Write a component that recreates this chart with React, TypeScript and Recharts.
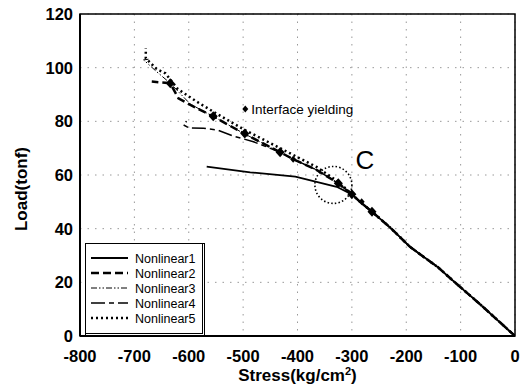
import {
  ComposedChart,
  Line,
  Scatter,
  XAxis,
  YAxis,
  CartesianGrid,
  ReferenceDot,
  ReferenceArea,
  Legend,
  Label,
} from "recharts";

// shared linear part, from origin up to the branch point near C
const baseStress = [0, -64, -119, -141, -193, -230, -263, -285, -300];
const baseLoad = [0, 11.8, 21.5, 25.5, 33.2, 40.5, 46.3, 50, 52.8];

const n1Stress = [-328, -404, -487, -567];
const n1Load = [55.6, 59.4, 61, 63.1];

const n2Stress = [-325, -365, -408, -432, -499, -554, -597, -619, -634, -668];
const n2Load = [56.9, 61.9, 65.9, 68.5, 75.5, 81.7, 86.1, 88.6, 94.2, 94.8];

const n3Stress = [-325, -365, -408, -432, -499, -554, -597, -634, -659, -683, -672];
const n3Load = [56.9, 61.9, 65.9, 68.5, 75.5, 81.7, 86.4, 94.2, 98.5, 102.9, 103.2];

const n4Stress = [-325, -365, -408, -432, -481, -518, -548, -573, -600, -610, -604];
const n4Load = [56.9, 61.9, 65.9, 68.5, 72.4, 74.5, 76.8, 77.4, 77.6, 78.7, 80];

const n5Stress = [-325, -365, -432, -499, -554, -585, -620, -643, -659, -679, -679];
const n5Load = [57.5, 63, 70, 77, 83.5, 87.3, 92, 97.9, 99.5, 103.5, 107.2];

const yieldStress = [-263, -300, -325, -432, -497, -555, -634];
const yieldLoad = [46.3, 52.8, 56.9, 68.5, 75.5, 81.9, 94.2];

const smallStress = [-282, -408];
const smallLoad = [50, 65.9];

const xTicks = [-800, -700, -600, -500, -400, -300, -200, -100, 0];
const yTicks = [0, 20, 40, 60, 80, 100, 120];

const seriesNames = ["Nonlinear1", "Nonlinear2", "Nonlinear3", "Nonlinear4", "Nonlinear5"];

const zip = (xs: number[], ys: number[]) => xs.map((x, i) => ({ x, y: ys[i] }));

const styles = [
  { width: 1.8, dash: undefined as string | undefined },
  { width: 2.5, dash: "8 4" },
  { width: 1, dash: "6 2 1.5 2 1.5 2" },
  { width: 1.5, dash: "14 4 5 4" },
  { width: 2.5, dash: "2 3" },
];

const series = [
  zip([...baseStress, ...n1Stress], [...baseLoad, ...n1Load]),
  zip([...baseStress, ...n2Stress], [...baseLoad, ...n2Load]),
  zip([...baseStress, ...n3Stress], [...baseLoad, ...n3Load]),
  zip([...baseStress, ...n4Stress], [...baseLoad, ...n4Load]),
  zip([...baseStress, ...n5Stress], [...baseLoad, ...n5Load]),
];

const font = "'Liberation Sans', Arial, sans-serif";

const BigDiamond = (p: any) => (
  <polygon
    points={`${p.cx},${p.cy - 5} ${p.cx + 4.5},${p.cy} ${p.cx},${p.cy + 5} ${p.cx - 4.5},${p.cy}`}
    fill="#000"
  />
);

const SmallDiamond = (p: any) => (
  <polygon
    points={`${p.cx},${p.cy - 3.5} ${p.cx + 3},${p.cy} ${p.cx},${p.cy + 3.5} ${p.cx - 3},${p.cy}`}
    fill="#000"
  />
);

const renderLegend = () => (
  <div
    style={{
      width: 116,
      height: 89,
      background: "#fff",
      border: "1px solid #000",
      borderRight: "3px double #000",
      borderBottom: "3px double #000",
    }}
  >
    <svg width={116} height={89}>
      {seriesNames.map((name, i) => (
        <g key={name}>
          <line
            x1={5}
            x2={42}
            y1={14 + i * 15}
            y2={14 + i * 15}
            stroke="#000"
            strokeWidth={styles[i].width}
            strokeDasharray={styles[i].dash}
          />
          <text x={49} y={14 + i * 15} dy="0.36em" fontSize={12.5} fontFamily={font} fill="#000">
            {name}
          </text>
        </g>
      ))}
    </svg>
  </div>
);

export default function App() {
  return (
    <div style={{ position: "absolute", left: 0, top: 0, width: 528, height: 389, background: "#fff" }}>
      <ComposedChart width={528} height={389} margin={{ top: 14, right: 13, left: 0, bottom: 0 }}>
        <CartesianGrid stroke="#999" strokeDasharray="1.5 6" />
        <XAxis
          type="number"
          dataKey="x"
          domain={[-800, 0]}
          ticks={xTicks}
          allowDataOverflow
          height={53}
          stroke="#000"
          strokeWidth={2}
          tickLine={false}
          tickSize={0}
          tickMargin={14}
          tick={{ fill: "#000", fontSize: 16.5, fontWeight: "bold", fontFamily: font }}
        >
          <Label
            content={(props: any) => {
              const vb = props.viewBox;
              return (
                <text
                  x={vb.x + vb.width / 2}
                  y={vb.y + 45}
                  textAnchor="middle"
                  fontSize={17}
                  fontWeight="bold"
                  fontFamily={font}
                  fill="#000"
                >
                  Stress(kg/cm
                  <tspan dy={-6} fontSize={11}>2</tspan>
                  <tspan dy={6}>)</tspan>
                </text>
              );
            }}
          />
        </XAxis>
        <YAxis
          type="number"
          domain={[0, 120]}
          ticks={yTicks}
          allowDataOverflow
          width={80}
          stroke="#000"
          strokeWidth={2}
          tickLine={false}
          tickSize={0}
          tickMargin={7}
          tick={{ fill: "#000", fontSize: 16.5, fontWeight: "bold", fontFamily: font }}
        >
          <Label
            content={(props: any) => {
              const vb = props.viewBox;
              const cx = vb.x + 21;
              const cy = vb.y + vb.height / 2 + 14;
              return (
                <text
                  x={cx}
                  y={cy}
                  dy="0.36em"
                  transform={`rotate(-90 ${cx} ${cy})`}
                  textAnchor="middle"
                  fontSize={17}
                  fontWeight="bold"
                  fontFamily={font}
                  fill="#000"
                >
                  Load(tonf)
                </text>
              );
            }}
          />
        </YAxis>
        <ReferenceArea x1={-800} x2={0} y1={0} y2={120} fill="none" stroke="#000" strokeWidth={1.5} />
        {series.map((d, i) => (
          <Line
            key={seriesNames[i]}
            name={seriesNames[i]}
            data={d}
            dataKey="y"
            type="linear"
            stroke="#000"
            strokeWidth={styles[i].width}
            strokeDasharray={styles[i].dash}
            dot={false}
            activeDot={false}
            isAnimationActive={false}
          />
        ))}
        <Scatter data={zip(yieldStress, yieldLoad)} dataKey="y" shape={BigDiamond} isAnimationActive={false} legendType="none" />
        <Scatter data={zip(smallStress, smallLoad)} dataKey="y" shape={SmallDiamond} isAnimationActive={false} legendType="none" />
        <ReferenceDot
          x={-334}
          y={56.3}
          r={18.5}
          shape={(p: any) => (
            <circle cx={p.cx} cy={p.cy} r={18.5} fill="none" stroke="#000" strokeWidth={1.6} strokeDasharray="1.5 2.2" />
          )}
        />
        <ReferenceDot
          x={-276}
          y={65.6}
          shape={(p: any) => (
            <text x={p.cx} y={p.cy} dy="0.36em" textAnchor="middle" fontSize={26} fontFamily={font} fill="#000">
              C
            </text>
          )}
        />
        <ReferenceDot
          x={-496}
          y={84.6}
          shape={(p: any) => (
            <g>
              <SmallDiamond cx={p.cx} cy={p.cy} />
              <text x={p.cx + 6} y={p.cy} dy="0.36em" fontSize={13.5} fontFamily={font} fill="#000">
                Interface yielding
              </text>
            </g>
          )}
        />
        <Legend
          layout="vertical"
          align="center"
          verticalAlign="middle"
          content={renderLegend}
          wrapperStyle={{ position: "absolute", left: 85, top: 243, width: 120, height: 93 }}
        />
      </ComposedChart>
    </div>
  );
}
